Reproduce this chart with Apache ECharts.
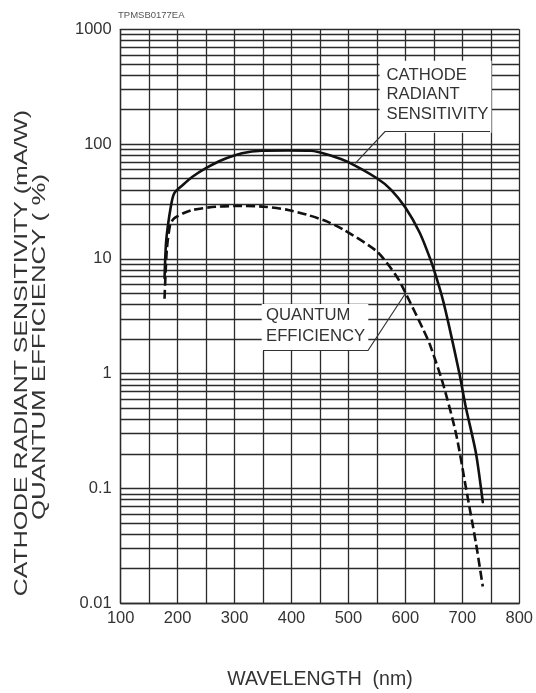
<!DOCTYPE html>
<html>
<head>
<meta charset="utf-8">
<script src="https://cdn.jsdelivr.net/npm/echarts@6/dist/echarts.min.js"></script>
<style>
html, body { margin: 0; padding: 0; background: #fff; }
#chart { width: 536px; height: 693px; }
</style>
</head>
<body>
<div id="chart"></div>
<script>
// Cathode radiant sensitivity (mA/W) vs wavelength (nm)
const sensWavelength = [177, 180, 188, 194, 209, 226, 249, 278, 313, 348, 394, 434, 475, 498, 550, 575, 600, 625, 643, 654, 666, 677, 695, 706, 724, 736];
const sensValues     = [6.8, 14.6, 28.5, 37.3, 44.0, 52.0, 61.5, 72.7, 83.2, 87.6, 88.0, 87.6, 77.7, 70.3, 50.4, 40.0, 28.0, 17.0, 10.2, 7.0, 4.38, 2.57, 1.0, 0.516, 0.203, 0.076];

// Quantum efficiency (%) vs wavelength (nm)
const qeWavelength = [177, 181, 187, 194, 210, 226, 267, 313, 353, 394, 429, 463, 492, 550, 585, 602, 631, 643, 666, 689, 706, 724, 736];
const qeValues     = [4.5, 12.0, 20.0, 22.6, 25.0, 26.7, 28.5, 28.9, 28.5, 26.7, 24.1, 21.1, 17.9, 11.6, 7.0, 4.85, 2.45, 1.80, 0.82, 0.30, 0.104, 0.0333, 0.014];

const xTickLabels = ['100', '200', '300', '400', '500', '600', '700', '800'];
const yTickLabels = ['0.01', '0.1', '1', '10', '100', '1000'];

const FONT = '"Liberation Sans", Arial, Helvetica, sans-serif';
const GRID = '#2b2b2b';

// Minor log grid values: 2..9 within each decade
const minorGrid = [];
for (let e = -2; e <= 2; e++) {
  for (let m = 2; m <= 9; m++) minorGrid.push(+(m * Math.pow(10, e)).toPrecision(3));
}

const zip = (xs, ys) => xs.map((x, i) => [x, ys[i]]);

const chart = echarts.init(document.getElementById('chart'), null, { renderer: 'canvas' });

chart.setOption({
  animation: false,
  backgroundColor: '#fff',
  grid: { left: 120.7, top: 29.3, right: 12, bottom: 89.7, containLabel: false },
  xAxis: {
    type: 'value',
    min: 100, max: 800, interval: 50,
    axisLine: { show: true, lineStyle: { color: GRID, width: 1.3 } },
    axisTick: { show: false },
    splitLine: { show: true, lineStyle: { color: GRID, width: 1.3 } },
    axisLabel: {
      margin: 7,
      color: '#333', fontFamily: FONT, fontSize: 16.5,
      showMinLabel: true, showMaxLabel: true,
      formatter: v => (v % 100 === 0 ? xTickLabels[(v - 100) / 100] : '')
    }
  },
  yAxis: {
    type: 'log', logBase: 10,
    min: 0.01, max: 1000,
    axisLine: { show: true, lineStyle: { color: GRID, width: 1.3 } },
    axisTick: { show: false },
    splitLine: { show: true, lineStyle: { color: GRID, width: 1.3 } },
    axisLabel: {
      margin: 9,
      color: '#333', fontFamily: FONT, fontSize: 16.5,
      formatter: v => yTickLabels[Math.round(Math.log10(v)) + 2]
    }
  },
  series: [
    {
      // minor log gridlines
      type: 'line', data: [], z: 1, silent: true,
      markLine: {
        silent: true, symbol: 'none', animation: false,
        label: { show: false },
        lineStyle: { color: GRID, width: 1.3, type: 'solid' },
        data: minorGrid.map(v => ({ yAxis: v }))
      }
    },
    {
      name: 'CATHODE RADIANT SENSITIVITY',
      type: 'line', z: 5,
      data: zip(sensWavelength, sensValues),
      showSymbol: false, symbol: 'none',
      smooth: 0.25,
      lineStyle: { color: '#111', width: 2.6, type: 'solid', join: 'round', cap: 'round' }
    },
    {
      name: 'QUANTUM EFFICIENCY',
      type: 'line', z: 5,
      data: zip(qeWavelength, qeValues),
      showSymbol: false, symbol: 'none',
      smooth: 0.25,
      lineStyle: { color: '#111', width: 2.6, type: [9, 4], join: 'round' }
    }
  ]
});

// Annotations and titles
const sensTip = chart.convertToPixel({ gridIndex: 0 }, [512, 68]);
const qeTip = chart.convertToPixel({ gridIndex: 0 }, [600, 5.0]);

function labelLines(lines, x, y0, step) {
  return lines.map((t, i) => ({
    type: 'text', z: 20, silent: true,
    style: {
      text: t, x: x, y: y0 + i * step,
      font: '16.7px ' + FONT, fill: '#333',
      textAlign: 'left', textVerticalAlign: 'middle'
    }
  }));
}

chart.setOption({
  graphic: [
    // white backing for the annotation labels
    { type: 'rect', z: 15, silent: true, shape: { x: 379.5, y: 60.7, width: 112, height: 72 }, style: { fill: '#fff' } },
    { type: 'rect', z: 15, silent: true, shape: { x: 261.7, y: 304, width: 106.6, height: 47 }, style: { fill: '#fff' } },
    ...labelLines(['CATHODE', 'RADIANT', 'SENSITIVITY'], 386.5, 75, 19.5),
    ...labelLines(['QUANTUM', 'EFFICIENCY'], 266, 315, 21.5),
    {
      type: 'polyline', z: 18, silent: true,
      shape: { points: [[490, 131.5], [385, 131.5], sensTip] },
      style: { stroke: '#333', lineWidth: 1.2, fill: null }
    },
    {
      type: 'polyline', z: 18, silent: true,
      shape: { points: [[263, 350.5], [368, 350.5], qeTip] },
      style: { stroke: '#333', lineWidth: 1.2, fill: null }
    },
    // document code
    {
      type: 'text', z: 20, silent: true,
      style: { text: 'TPMSB0177EA', x: 118, y: 15, font: '9.5px ' + FONT, fill: '#555', textVerticalAlign: 'middle' }
    },
    // axis titles
    {
      type: 'text', z: 20, silent: true,
      x: 320, y: 680,
      style: { text: 'WAVELENGTH  (nm)', font: '19.5px ' + FONT, fill: '#333', textAlign: 'center', textVerticalAlign: 'middle' }
    },
    {
      type: 'text', z: 20, silent: true,
      x: 22, y: 353, rotation: Math.PI / 2, scaleX: 1.31,
      style: { text: 'CATHODE RADIANT SENSITIVITY (mA/W)', font: '19px ' + FONT, fill: '#333', textAlign: 'center', textVerticalAlign: 'middle' }
    },
    {
      type: 'text', z: 20, silent: true,
      x: 40, y: 347, rotation: Math.PI / 2, scaleX: 1.36,
      style: { text: 'QUANTUM EFFICIENCY ( %)', font: '19px ' + FONT, fill: '#333', textAlign: 'center', textVerticalAlign: 'middle' }
    }
  ]
});
</script>
</body>
</html>
